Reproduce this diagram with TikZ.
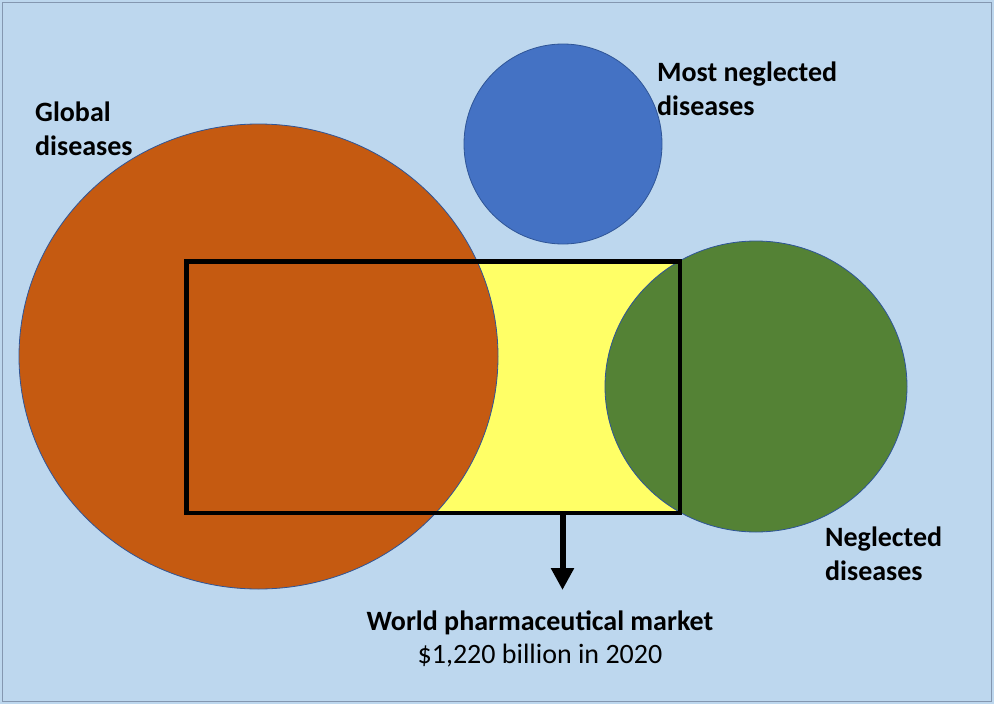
\documentclass[tikz,border=0pt]{standalone}
\usepackage{fontspec}
\setmainfont{Carlito}
\usepackage{tikz}
\usetikzlibrary{shapes.geometric,arrows.meta}
\definecolor{skyback}{HTML}{BDD7EE}
\definecolor{frameblue}{HTML}{8497B0}
\definecolor{globalorange}{HTML}{C55A11}
\definecolor{mostblue}{HTML}{4472C4}
\definecolor{neglgreen}{HTML}{548235}
\definecolor{marketyellow}{HTML}{FFFF66}
\definecolor{edgeblue}{HTML}{2F5597}

\begin{document}
\begin{tikzpicture}[x=1pt,y=-1pt,
    blob/.style={ellipse,draw=edgeblue,line width=0.8pt,inner sep=0pt},
    tag/.style={align=left,inner sep=0pt,anchor=north west,font=\fontsize{28}{33.5}\selectfont\bfseries},
    ]
      \useasboundingbox (0,0) rectangle (994,704);
      \fill[skyback] (0,0) rectangle (994,704);
      \draw[frameblue,line width=1pt] (2.5,2.5) rectangle (991.5,701.5);
      % market box, fill first, frame later
      \node[fill=marketyellow,minimum width=493.5pt,minimum height=251.5pt,inner sep=0pt] (market) at (433.25,387.25) {};
      \node[blob,fill=globalorange,minimum width=479pt,minimum height=465pt] (global) at (258.5,356.5) {};
      \node[blob,fill=mostblue,minimum width=198pt,minimum height=200pt] (most) at (563,144) {};
      \node[blob,fill=neglgreen,minimum width=302pt,minimum height=291pt] (negl) at (756,386.5) {};
      \draw[line width=4.5pt] (market.north west) rectangle (market.south east);
      % labels
      \node[tag] (globaltxt) at (35,102) {Global\\diseases};
      \node[tag] (mosttxt) at (657,62) {Most neglected\\diseases};
      \node[tag] (negltxt) at (825,527) {Neglected\\diseases};
      \node[align=center,inner sep=0pt,anchor=north,font=\fontsize{28}{32.5}\selectfont] (markettxt) at (540,611)
        {\textbf{World pharmaceutical market}\\\$1,220 billion in 2020};
      \coordinate (tip) at (562.5,590);
      \draw[line width=6pt,-{Triangle[width=22pt,length=22pt]}] (market.south -| tip) -- (tip);
\end{tikzpicture}
\end{document}
